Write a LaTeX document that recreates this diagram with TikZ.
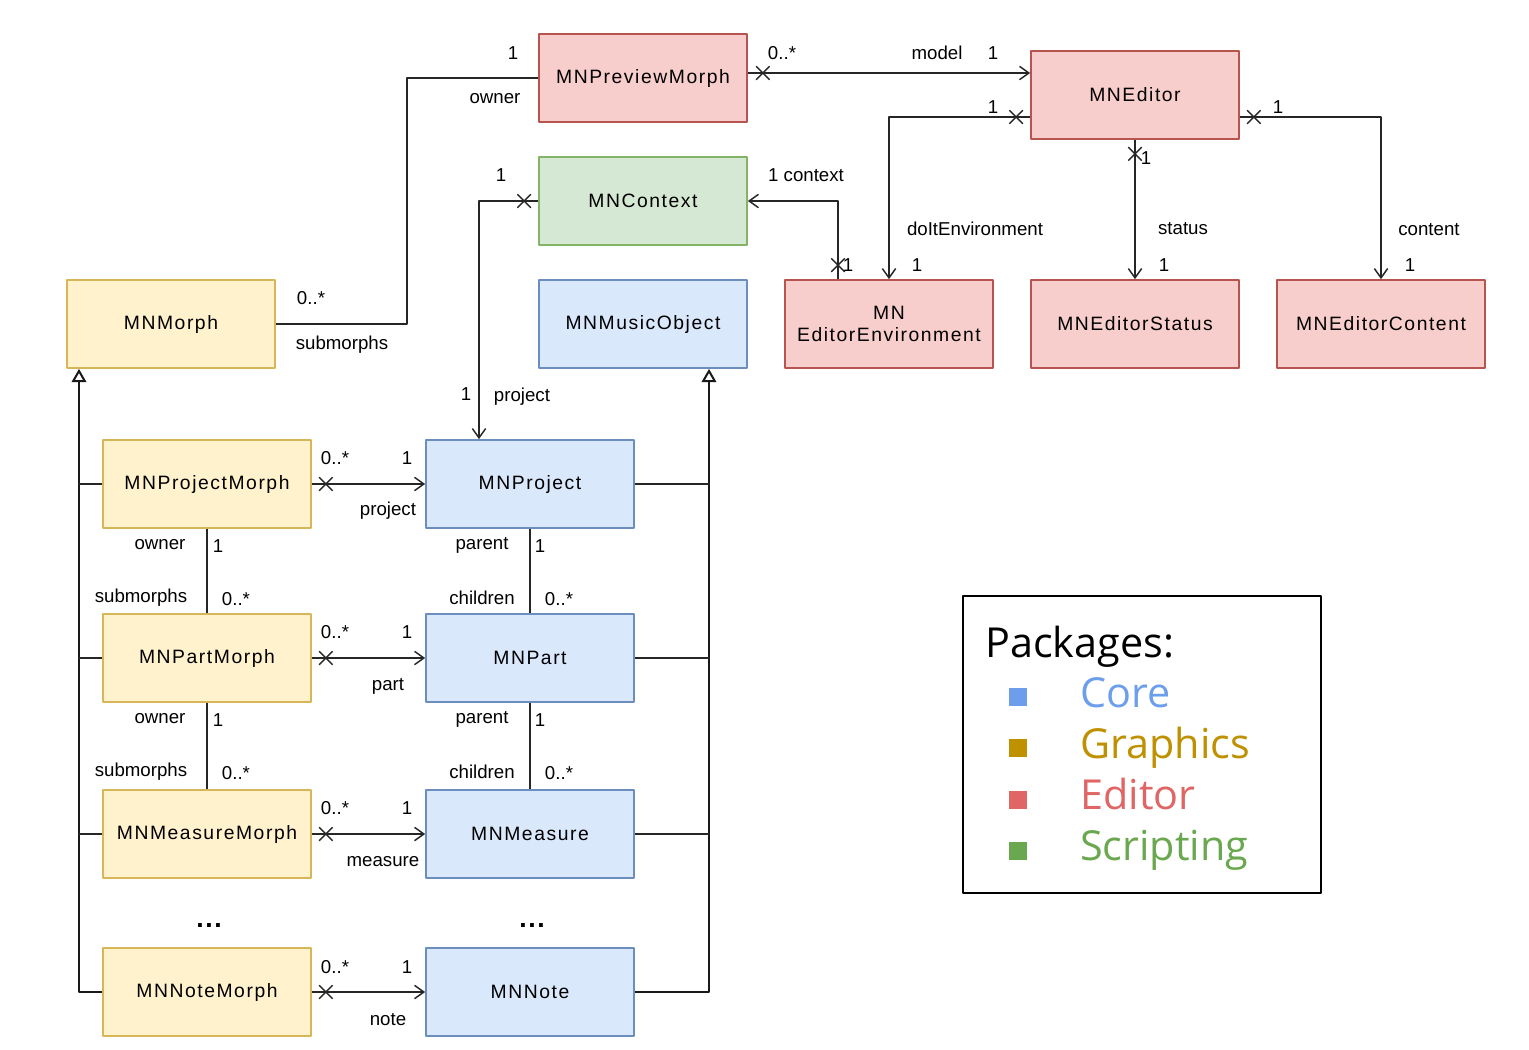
\documentclass[tikz,border=0pt]{standalone}
\usepackage{fontspec}
\setmainfont{Liberation Sans}
\newfontfamily\legendfont{Open Sans}
\newfontfamily\boxfont[LetterSpace=8]{Liberation Sans}
\newfontfamily\dotsfont[LetterSpace=6]{Liberation Sans}
\usetikzlibrary{arrows.meta,calc,shapes.misc}

\definecolor{coreF}{HTML}{DAE8FC}\definecolor{coreD}{HTML}{6C8EBF}
\definecolor{grF}{HTML}{FFF2CC}\definecolor{grD}{HTML}{D6B656}
\definecolor{edF}{HTML}{F8CECC}\definecolor{edD}{HTML}{B85450}
\definecolor{scF}{HTML}{D5E8D4}\definecolor{scD}{HTML}{82B366}
\definecolor{coreC}{HTML}{6D9EEB}\definecolor{grC}{HTML}{BF9000}
\definecolor{edC}{HTML}{E06666}\definecolor{scC}{HTML}{6AA84F}

\tikzset{
  cls/.style={rectangle, draw, line width=1.3pt, minimum width=156pt, minimum height=66pt,
    align=center, font=\boxfont\fontsize{14.5}{17}\selectfont, inner sep=2pt},
  core/.style={cls, fill=coreF, draw=coreD},
  graph/.style={cls, fill=grF, draw=grD},
  editor/.style={cls, fill=edF, draw=edD},
  script/.style={cls, fill=scF, draw=scD},
  lbl/.style={font=\fontsize{14}{16}\selectfont, inner sep=1pt},
  assoc/.style={draw=black!85, line width=1.1pt},
  nav/.style={assoc, -{Straight Barb[length=7pt, width=10pt, line width=1.1pt]}},
  inh/.style={draw=black!90, line width=1.8pt, -{Triangle[open, length=10pt, width=11pt, fill=white, line width=1.5pt]}},
  xm/.style={cross out, draw=black!85, line width=1.1pt, minimum size=9pt, inner sep=0pt},
  sq/.style={rectangle, minimum size=14pt, inner sep=0pt},
  pkg/.style={anchor=base west, font=\legendfont\fontsize{31}{36}\selectfont, inner sep=0pt},
  dots/.style={anchor=base, font=\dotsfont\bfseries\fontsize{20}{22}\selectfont, inner sep=0pt}
}

\begin{document}
\begin{tikzpicture}[x=0.75pt, y=-0.75pt, line join=round]
  \useasboundingbox (0,0) rectangle (1529,1050);

  % classes
  \node[editor] (prev) at (643,78) {MNPreviewMorph};
  \node[editor] (ed) at (1135,95) {MNEditor};
  \node[script] (ctx) at (643,201) {MNContext};
  \node[graph] (morph) at (171,324) {MNMorph};
  \node[core] (music) at (643,324) {MNMusicObject};
  \node[editor] (env) at (889,324) {MN\\EditorEnvironment};
  \node[editor] (status) at (1135,324) {MNEditorStatus};
  \node[editor] (content) at (1381,324) {MNEditorContent};
  \node[graph] (projm) at (207,484) {MNProjectMorph};
  \node[core] (proj) at (530,484) {MNProject};
  \node[graph] (partm) at (207,658) {MNPartMorph};
  \node[core] (part) at (530,658) {MNPart};
  \node[graph] (measm) at (207,834) {MNMeasureMorph};
  \node[core] (meas) at (530,834) {MNMeasure};
  \node[graph] (notem) at (207,992) {MNNoteMorph};
  \node[core] (note) at (530,992) {MNNote};
  \node[dots] (gdots) at (209,927) {...};
  \node[dots] (cdots) at (532,927) {...};

  % generalisations
  \draw[inh] (notem.west) -| ($(morph.south)+(-92,0)$);
  \draw[assoc] (projm.west) -- ++(-24,0) (partm.west) -- ++(-24,0) (measm.west) -- ++(-24,0);
  \draw[inh] (note.east) -| ($(music.south)+(66,0)$);
  \draw[assoc] (proj.east) -- ++(75,0) (part.east) -- ++(75,0) (meas.east) -- ++(75,0);

  % owner / submorphs
  \draw[assoc] (morph.east) -- ++(131,0) |- (prev.west);
  \node[lbl] (m1) at (311,298) {0..*};
  \node[lbl] (m2) at (342,345) {submorphs};
  \node[lbl] (m3) at (513,53) {1};
  \node[lbl] (m4) at (495,99) {owner};

  % model
  \draw[nav] ($(prev.east)+(0,-5)$) -- ($(ed.west)+(0,-22)$);
  \node[xm] (x1) at ($(prev.east)+(15,-5)$) {};
  \node[lbl] (e1) at (782,53) {0..*};
  \node[lbl] (e2) at (937,53) {model};
  \node[lbl] (e3) at (993,53) {1};

  % editor parts
  \draw[nav] ($(ed.west)+(0,22)$) -| (env.north);
  \node[xm] (x2) at ($(ed.west)+(-14,22)$) {};
  \draw[nav] (ed.south) -- (status.north);
  \node[xm] (x3) at ($(ed.south)+(0,14)$) {};
  \draw[nav] ($(ed.east)+(0,22)$) -| (content.north);
  \node[xm] (x4) at ($(ed.east)+(14,22)$) {};
  \node[lbl, fill=white] (e4) at (993,107) {1};
  \node[lbl, fill=white] (e5) at (1278,107) {1};
  \node[lbl] (e6) at (1146,158) {1};
  \node[lbl] (e7) at (975,229) {doItEnvironment};
  \node[lbl] (e8) at (1183,229) {status};
  \node[lbl] (e9) at (1429,230) {content};
  \node[lbl] (e10) at (917,265) {1};
  \node[lbl] (e11) at (1164,265) {1};
  \node[lbl] (e12) at (1410,265) {1};

  % context
  \draw[nav] ($(env.north)+(-51,0)$) |- (ctx.east);
  \node[xm] (x5) at ($(env.north)+(-51,-14)$) {};
  \node[lbl] (c1) at (806,175) {1 context};
  \node[lbl] (c2) at (848,265) {1};
  \draw[nav] (ctx.west) -| ($(proj.north)+(-51,0)$);
  \node[xm] (x6) at ($(ctx.west)+(-14,0)$) {};
  \node[lbl] (c3) at (501,175) {1};
  \node[lbl] (c4) at (466,394) {1};
  \node[lbl] (c5) at (522,397) {project};

  % morph -> model
  \draw[nav] (projm.east) -- (proj.west);
  \node[xm] (x7) at ($(projm.east)+(14,0)$) {};
  \node[lbl] (p1) at (335,458) {0..*};
  \node[lbl] (p2) at (407,458) {1};
  \node[lbl] (p3) at (388,511) {project};
  \draw[nav] (partm.east) -- (part.west);
  \node[xm] (x8) at ($(partm.east)+(14,0)$) {};
  \node[lbl] (p4) at (335,632) {0..*};
  \node[lbl] (p5) at (407,632) {1};
  \node[lbl] (p6) at (388,686) {part};
  \draw[nav] (measm.east) -- (meas.west);
  \node[xm] (x9) at ($(measm.east)+(14,0)$) {};
  \node[lbl] (p7) at (335,808) {0..*};
  \node[lbl] (p8) at (407,808) {1};
  \node[lbl] (p9) at (383,862) {measure};
  \draw[nav] (notem.east) -- (note.west);
  \node[xm] (x10) at ($(notem.east)+(14,0)$) {};
  \node[lbl] (p10) at (335,967) {0..*};
  \node[lbl] (p11) at (407,967) {1};
  \node[lbl] (p12) at (388,1020) {note};

  % owner / parent chains
  \draw[assoc] (projm.south) -- (partm.north);
  \draw[assoc] (partm.south) -- (measm.north);
  \draw[assoc] (proj.south) -- (part.north);
  \draw[assoc] (part.south) -- (meas.north);
  \node[lbl] (o1) at (160,545) {owner};
  \node[lbl] (o2) at (218,546) {1};
  \node[lbl] (o3) at (141,598) {submorphs};
  \node[lbl] (o4) at (236,599) {0..*};
  \node[lbl] (o5) at (160,719) {owner};
  \node[lbl] (o6) at (218,720) {1};
  \node[lbl] (o7) at (141,772) {submorphs};
  \node[lbl] (o8) at (236,773) {0..*};
  \node[lbl] (r1) at (482,545) {parent};
  \node[lbl] (r2) at (540,546) {1};
  \node[lbl] (r3) at (482,598) {children};
  \node[lbl] (r4) at (559,599) {0..*};
  \node[lbl] (r5) at (482,719) {parent};
  \node[lbl] (r6) at (540,720) {1};
  \node[lbl] (r7) at (482,772) {children};
  \node[lbl] (r8) at (559,773) {0..*};

  % legend
  \node[draw, line width=1.3pt, minimum width=268.5pt, minimum height=222.75pt] (legend) at (1142,744.5) {};
  \node[pkg] (ltitle) at (985,657) {Packages:};
  \node[sq, fill=coreC] (sqcore) at (1018,697) {};
  \node[pkg, text=coreC] (lcore) at (1080,707) {Core};
  \node[sq, fill=grC] (sqgr) at (1018,748) {};
  \node[pkg, text=grC] (lgr) at (1080,758) {Graphics};
  \node[sq, fill=edC] (sqed) at (1018,800) {};
  \node[pkg, text=edC] (led) at (1080,809) {Editor};
  \node[sq, fill=scC] (sqsc) at (1018,851) {};
  \node[pkg, text=scC] (lsc) at (1080,860) {Scripting};
\end{tikzpicture}
\end{document}
